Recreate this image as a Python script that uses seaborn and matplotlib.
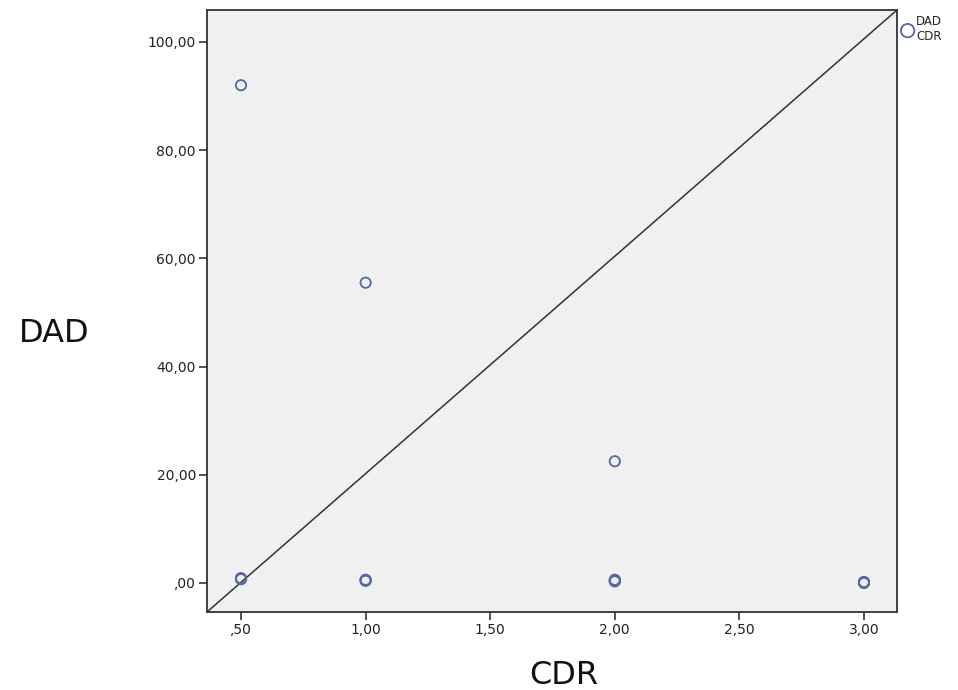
import matplotlib
matplotlib.use("Agg")
import matplotlib.pyplot as plt
import seaborn as sns
import pandas as pd
from matplotlib.ticker import FuncFormatter

# Data
cdr = [0.5, 1.0, 2.0, 0.5, 0.5, 0.5, 1.0, 1.0, 1.0, 2.0, 2.0, 2.0, 2.0, 3.0, 3.0, 3.0]
dad = [92.0, 55.5, 22.5, 0.8, 0.7, 0.9, 0.5, 0.4, 0.6, 0.5, 0.4, 0.6, 0.3, 0.1, 0.0, 0.2]
x_ticks = [0.5, 1.0, 1.5, 2.0, 2.5, 3.0]
y_ticks = [0, 20, 40, 60, 80, 100]

df = pd.DataFrame({"CDR": cdr, "DAD": dad})

sns.set_style("ticks")
plt.rcParams["font.family"] = ["DejaVu Sans"]

fig = plt.figure(figsize=(9.58, 6.9), dpi=100)
ax = fig.add_axes([207 / 958, 78 / 690, 690 / 958, 602 / 690])
ax.set_facecolor("#F0F0F0")

sns.scatterplot(data=df, x="CDR", y="DAD", ax=ax, s=55, facecolor="none",
                edgecolor="#5468A6", linewidth=1.3, marker="o", label="DAD\nCDR",
                zorder=3)

ax.plot([0, 1], [0, 1], transform=ax.transAxes, color="#333333", lw=1.1, zorder=2)

ax.set_xlim(0.3635, 3.1325)
ax.set_ylim(-5.36, 105.9)
ax.set_xticks(x_ticks)
ax.set_yticks(y_ticks)

def fmt(v, pos):
    s = f"{v:.2f}".replace(".", ",")
    if s.startswith("0,"):
        s = s[1:]
    return s

ax.xaxis.set_major_formatter(FuncFormatter(fmt))
ax.yaxis.set_major_formatter(FuncFormatter(fmt))
ax.tick_params(axis="both", labelsize=10, length=6, width=1.2, color="#333333",
               labelcolor="#222222", direction="out", pad=2)
for sp in ax.spines.values():
    sp.set_visible(True)
    sp.set_color("#333333")
    sp.set_linewidth(1.3)

ax.set_xlabel("")
ax.set_ylabel("")
fig.text(54 / 958, 1 - 334 / 690, "DAD", fontsize=23,
         ha="center", va="center", color="#111111")
fig.text(564 / 958, 1 - 676 / 690, "CDR", fontsize=23,
         ha="center", va="center", color="#111111")

leg = ax.legend(loc="upper left", bbox_to_anchor=(1.0, 1.0), frameon=False,
                fontsize=8.5, handletextpad=0.2, borderaxespad=0.2, handlelength=1.0,
                borderpad=0.2, markerscale=1.3)
for t in leg.get_texts():
    t.set_multialignment("right")

fig.savefig("out.png", dpi=100)
